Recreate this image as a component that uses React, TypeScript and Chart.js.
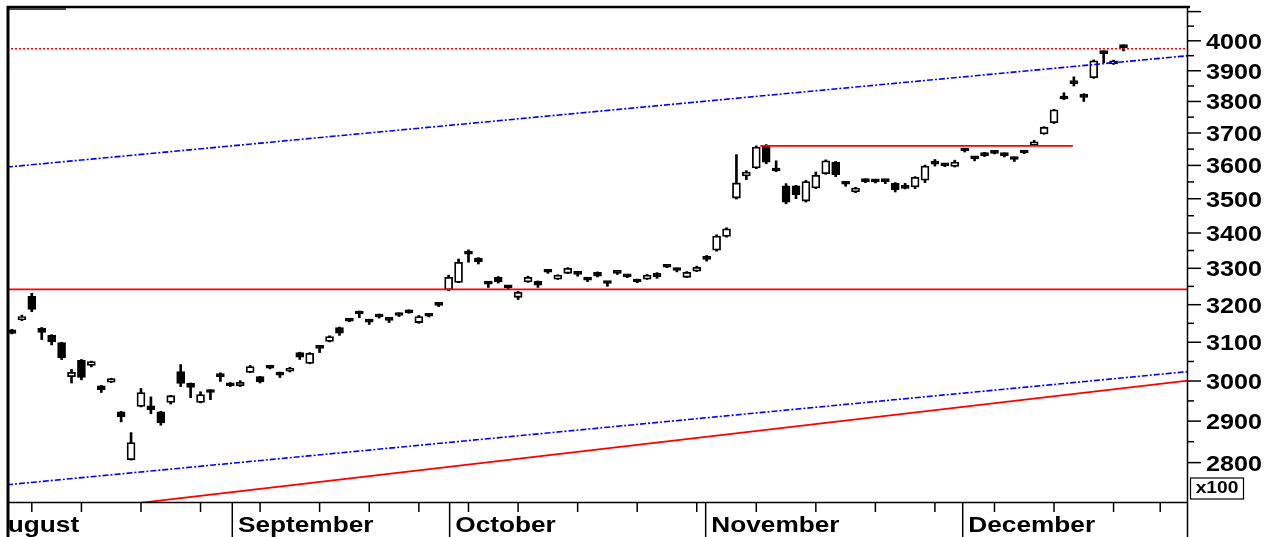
import React, { useEffect, useRef } from "react";
import { Chart, registerables } from "chart.js";

Chart.register(...registerables);

// ---- Data (daily candles, August – December) ----
const opens = [
  3133, 3160, 3223, 3137, 3118, 3099, 3011, 3053, 3040, 2988,
  2997, 2923, 2807, 2936, 2938, 2923, 2946, 3024, 2994, 2946,
  2977, 3012, 2995, 2988, 3022, 3011, 3037, 3022, 3025, 3073,
  3045, 3089, 3102, 3139, 3160, 3182, 3160, 3173, 3165, 3176,
  3184, 3152, 3173, 3205, 3240, 3261, 3347, 3329, 3261, 3275,
  3249, 3220, 3262, 3264, 3295, 3270, 3286, 3289, 3272, 3289,
  3262, 3289, 3281, 3266, 3270, 3286, 3306, 3296, 3275, 3292,
  3330, 3351, 3390, 3502, 3568, 3592, 3662, 3590, 3538, 3538,
  3493, 3532, 3575, 3610, 3550, 3520, 3557, 3553, 3556, 3546,
  3536, 3535, 3555, 3608, 3605, 3597, 3650, 3625, 3634, 3641,
  3637, 3625, 3644, 3663, 3697, 3732, 3814, 3864, 3823, 3877,
  3964, 3923, 3984,
];
const highs = [
  3134, 3172, 3231, 3139, 3120, 3100, 3030, 3055, 3051, 2989,
  3007, 2924, 2872, 2981, 2960, 2924, 2964, 3042, 2995, 2973,
  2978, 3021, 2996, 3001, 3040, 3012, 3039, 3023, 3035, 3074,
  3073, 3090, 3117, 3140, 3162, 3183, 3161, 3175, 3166, 3178,
  3186, 3171, 3175, 3206, 3281, 3326, 3352, 3330, 3262, 3277,
  3252, 3236, 3278, 3265, 3296, 3282, 3302, 3290, 3274, 3290,
  3263, 3290, 3282, 3270, 3283, 3288, 3307, 3301, 3291, 3306,
  3336, 3395, 3415, 3633, 3584, 3660, 3664, 3614, 3545, 3540,
  3555, 3580, 3617, 3612, 3552, 3534, 3559, 3558, 3557, 3548,
  3546, 3566, 3601, 3618, 3606, 3616, 3651, 3626, 3640, 3643,
  3638, 3626, 3646, 3677, 3720, 3775, 3828, 3880, 3825, 3936,
  3966, 3935, 3986,
];
const lows = [
  3122, 3157, 3181, 3107, 3093, 3055, 2995, 3003, 3036, 2971,
  2996, 2898, 2806, 2935, 2918, 2890, 2942, 2986, 2958, 2945,
  2953, 2999, 2986, 2986, 3021, 2995, 3031, 3009, 3023, 3055,
  3044, 3073, 3101, 3118, 3154, 3165, 3147, 3164, 3152, 3168,
  3177, 3150, 3167, 3195, 3238, 3260, 3317, 3312, 3247, 3259,
  3243, 3214, 3261, 3247, 3286, 3269, 3285, 3278, 3263, 3276,
  3250, 3283, 3274, 3260, 3269, 3272, 3302, 3290, 3274, 3291,
  3320, 3348, 3388, 3499, 3557, 3590, 3605, 3581, 3485, 3500,
  3490, 3530, 3573, 3566, 3537, 3518, 3548, 3547, 3545, 3520,
  3529, 3530, 3548, 3598, 3596, 3595, 3641, 3614, 3627, 3635,
  3626, 3612, 3636, 3661, 3696, 3730, 3806, 3850, 3800, 3875,
  3926, 3921, 3966,
];
const closes = [
  3123, 3168, 3187, 3126, 3101, 3060, 3022, 3009, 3050, 2978,
  3006, 2911, 2848, 2971, 2928, 2896, 2963, 2994, 2984, 2966,
  2971, 3011, 2988, 2997, 3037, 2998, 3033, 3015, 3031, 3061,
  3071, 3084, 3115, 3124, 3156, 3175, 3153, 3167, 3158, 3171,
  3178, 3168, 3169, 3198, 3275, 3317, 3340, 3318, 3256, 3262,
  3246, 3234, 3275, 3253, 3289, 3281, 3300, 3283, 3267, 3278,
  3258, 3286, 3276, 3262, 3281, 3276, 3303, 3294, 3289, 3303,
  3325, 3391, 3412, 3547, 3580, 3656, 3610, 3583, 3490, 3512,
  3551, 3570, 3614, 3572, 3543, 3532, 3551, 3550, 3551, 3527,
  3531, 3564, 3598, 3604, 3599, 3610, 3644, 3620, 3630, 3637,
  3630, 3618, 3638, 3672, 3718, 3773, 3808, 3858, 3813, 3933,
  3957, 3932, 3977,
];

// axis
const yMin = 2706;
const yMax = 4116;
const xMin = -0.5;
const xMax = 118.5;
const yLabelValues = [2800, 2900, 3000, 3100, 3200, 3300, 3400, 3500, 3600, 3700, 3800, 3900, 4000];
const yMajorTickValues = [2800, 2900, 3000, 3100, 3200, 3300, 3400, 3500, 3600, 3700, 3800, 3900, 4000, 4100];
const yMinorTickValues = [2850, 2950, 3050, 3150, 3250, 3350, 3450, 3550, 3650, 3750, 3850, 3950, 4050];
const monthNames = ["August", "September", "October", "November", "December"];
const monthTickIdx = [-2.9, 22.2, 44.1, 69.9, 95.8];
const weekTickIdx = [2, 7, 13, 19, 25, 31, 36, 41, 46, 51, 57, 63, 69, 75, 81, 87, 93, 99, 105, 111, 115.7];
const scaleUnitText = "x100";

// drawn lines
const resistanceLevel = 3973;
const supportLevel = 3242;
const novHighLevel = 3660;
const novHighSpan = [75.4, 106.9];
const upperChannel = [3595, 3950];
const lowerChannel = [2748, 3024];
const risingTrend = [2671, 3001];

const FONT = "'Liberation Sans', Arial, sans-serif";

function stretchedText(
  ctx: CanvasRenderingContext2D,
  text: string,
  x: number,
  y: number,
  size: number,
  sx: number,
  align: CanvasTextAlign,
  baseline: CanvasTextBaseline
) {
  ctx.save();
  ctx.font = `bold ${size}px ${FONT}`;
  ctx.fillStyle = "#000";
  ctx.textAlign = align;
  ctx.textBaseline = baseline;
  ctx.translate(x, y);
  ctx.scale(sx, 1);
  ctx.fillText(text, 0, 0);
  ctx.restore();
}

const framePlugin = {
  id: "frame",
  afterDraw(chart: any) {
    const { ctx, chartArea } = chart;
    const xs = chart.scales.x;
    const ys = chart.scales.y;
    const L = chartArea.left;
    const R = chartArea.right;
    const T = chartArea.top;
    const B = chartArea.bottom;
    const H = chart.height;
    ctx.save();
    ctx.strokeStyle = "#000";
    // top border
    ctx.lineWidth = 2.5;
    ctx.beginPath();
    ctx.moveTo(L, T);
    ctx.lineTo(R + 2, T);
    ctx.stroke();
    ctx.fillStyle = "#444";
    ctx.fillRect(L, T + 1, 59, 2);
    // left border
    ctx.lineWidth = 3;
    ctx.beginPath();
    ctx.moveTo(L + 1, T - 1);
    ctx.lineTo(L + 1, H);
    ctx.stroke();
    // bottom axis
    ctx.lineWidth = 1.5;
    ctx.beginPath();
    ctx.moveTo(L, B - 0.5);
    ctx.lineTo(R, B - 0.5);
    ctx.stroke();
    // right axis
    ctx.beginPath();
    ctx.moveTo(R - 0.5, T);
    ctx.lineTo(R - 0.5, H);
    ctx.stroke();
    // y ticks
    for (const v of yMajorTickValues) {
      const py = ys.getPixelForValue(v);
      if (py < T - 1 || py > B) continue;
      ctx.beginPath();
      ctx.moveTo(R, py);
      ctx.lineTo(R + 13, py);
      ctx.stroke();
    }
    for (const v of yMinorTickValues) {
      const py = ys.getPixelForValue(v);
      if (py < T - 1 || py > B) continue;
      ctx.beginPath();
      ctx.moveTo(R, py);
      ctx.lineTo(R + 6, py);
      ctx.stroke();
    }
    for (const v of yLabelValues) {
      const py = ys.getPixelForValue(v);
      stretchedText(ctx, String(v), R + 18, py + 2, 21.5, 1.17, "left", "middle");
    }
    // x ticks
    for (const idx of weekTickIdx) {
      const px = xs.getPixelForValue(idx);
      ctx.beginPath();
      ctx.moveTo(px, B);
      ctx.lineTo(px, B + 9);
      ctx.stroke();
    }
    ctx.save();
    ctx.beginPath();
    ctx.rect(L + 2, B, R - L, H - B);
    ctx.clip();
    monthTickIdx.forEach((idx, k) => {
      const px = xs.getPixelForValue(idx);
      ctx.beginPath();
      ctx.moveTo(px, B);
      ctx.lineTo(px, H);
      ctx.stroke();
      stretchedText(ctx, monthNames[k], px + 5.6, B + 29, 21.5, 1.22, "left", "alphabetic");
    });
    ctx.restore();
    // unit box
    ctx.lineWidth = 1.2;
    ctx.strokeRect(R + 2.5, B - 25, 53, 21);
    stretchedText(ctx, scaleUnitText, R + 29, B - 14, 16, 1.2, "center", "middle");
    ctx.restore();
  },
};

function flatLine(level: number) {
  return [
    { x: xMin, y: level },
    { x: xMax, y: level },
  ];
}

export default function App() {
  const ref = useRef<HTMLCanvasElement>(null);
  useEffect(() => {
    const canvas = ref.current;
    if (!canvas) return;
    const idx = opens.map((_, i) => i);
    const bodyColors = idx.map((i) => (closes[i] >= opens[i] ? "#ffffff" : "#000000"));
    const lineBase = {
      type: "line" as const,
      pointRadius: 0,
      fill: false,
      tension: 0,
      order: 0,
    };
    const chart = new Chart(canvas, {
      type: "bar",
      data: {
        datasets: [
          {
            ...lineBase,
            label: "resistance",
            data: flatLine(resistanceLevel),
            borderColor: "#ff0000",
            borderWidth: 1.6,
            borderDash: [2, 2],
          },
          {
            ...lineBase,
            label: "support",
            data: flatLine(supportLevel),
            borderColor: "#ff0000",
            borderWidth: 1.8,
          },
          {
            ...lineBase,
            label: "november high",
            data: [
              { x: novHighSpan[0], y: novHighLevel },
              { x: novHighSpan[1], y: novHighLevel },
            ],
            borderColor: "#ff0000",
            borderWidth: 1.8,
          },
          {
            ...lineBase,
            label: "upper channel",
            data: [
              { x: xMin, y: upperChannel[0] },
              { x: xMax, y: upperChannel[1] },
            ],
            borderColor: "#0000ff",
            borderWidth: 1.6,
            borderDash: [6, 2, 2, 2],
          },
          {
            ...lineBase,
            label: "lower channel",
            data: [
              { x: xMin, y: lowerChannel[0] },
              { x: xMax, y: lowerChannel[1] },
            ],
            borderColor: "#0000ff",
            borderWidth: 1.6,
            borderDash: [6, 2, 2, 2],
          },
          {
            ...lineBase,
            label: "rising trend",
            data: [
              { x: xMin, y: risingTrend[0] },
              { x: xMax, y: risingTrend[1] },
            ],
            borderColor: "#ff0000",
            borderWidth: 1.8,
          },
          {
            type: "bar",
            label: "body",
            data: idx.map((i) => ({ x: i, y: [opens[i], closes[i]] })) as any,
            backgroundColor: bodyColors,
            borderColor: "#000000",
            borderWidth: 1.8,
            borderSkipped: false,
            barThickness: 8,
            minBarLength: 3,
            grouped: false,
            order: 1,
          },
          {
            type: "bar",
            label: "wick",
            data: idx.map((i) => ({ x: i, y: [lows[i], highs[i]] })) as any,
            backgroundColor: "#000000",
            borderWidth: 0,
            barThickness: 2,
            grouped: false,
            order: 2,
          },
        ] as any,
      },
      options: {
        animation: false,
        responsive: false,
        maintainAspectRatio: false,
        events: [],
        layout: { padding: { left: 7, top: 7, right: 0, bottom: 34 } },
        plugins: {
          legend: { display: false },
          tooltip: { enabled: false },
          title: { display: false },
        },
        scales: {
          x: {
            type: "linear",
            min: xMin,
            max: xMax,
            display: false,
            offset: false,
          },
          y: {
            type: "logarithmic",
            position: "right",
            min: yMin,
            max: yMax,
            grid: { display: false },
            border: { display: false },
            ticks: { display: false },
            afterFit: (scale: any) => {
              scale.width = 83;
            },
          },
        },
      },
      plugins: [framePlugin],
    });
    return () => chart.destroy();
  }, []);
  return (
    <div
      style={{
        position: "fixed",
        left: 0,
        top: 0,
        width: 1271,
        height: 537,
        background: "#ffffff",
      }}
    >
      <canvas ref={ref} width={1271} height={537} style={{ display: "block", width: 1271, height: 537 }} />
    </div>
  );
}
